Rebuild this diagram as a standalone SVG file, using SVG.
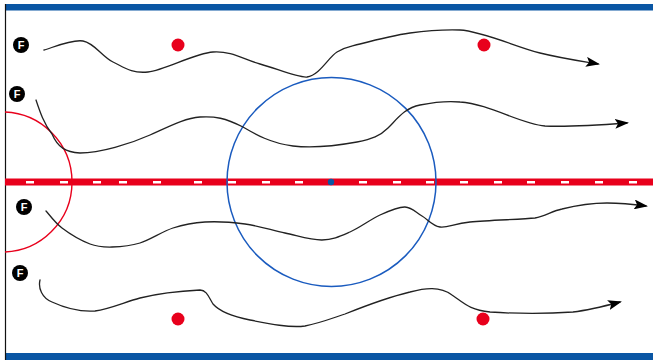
<svg xmlns="http://www.w3.org/2000/svg" width="653" height="360" viewBox="0 0 653 360">
<style>
.bar{fill:#0a56a4}
.dash{fill:#ffffff}
.path{fill:none;stroke:#222;stroke-width:1.3;stroke-linecap:round}
.fc{fill:#000}
.ft{fill:#fff;font-family:"Liberation Sans",Arial,sans-serif;font-weight:bold;font-size:11px;text-anchor:middle}
.dot{fill:#e8001c}
</style>
<defs>
<marker id="arr" viewBox="0 0 14 10" refX="12" refY="5" markerWidth="14" markerHeight="10" markerUnits="userSpaceOnUse" orient="auto">
<path d="M0,0 L14,5 L0,10 L3,5 Z" fill="#000"/>
</marker>
<clipPath id="rink"><rect x="5" y="10" width="648" height="343"/></clipPath>
</defs>
<rect width="653" height="360" fill="#fff"/>
<g id="rink-lines">
<rect class="bar" x="5" y="4" width="648" height="6.5"/>
<rect class="bar" x="5" y="353" width="648" height="7"/>
<line x1="5.5" y1="4" x2="5.5" y2="360" stroke="#111" stroke-width="1.2"/>
<rect x="5" y="178.5" width="648" height="7" fill="#e8001c"/>
<g class="dashes">
<rect class="dash" x="26" y="181" width="8" height="2.5"/>
<rect class="dash" x="60" y="181" width="8" height="2.5"/>
<rect class="dash" x="93" y="181" width="8" height="2.5"/>
<rect class="dash" x="119" y="181" width="8" height="2.5"/>
<rect class="dash" x="153" y="181" width="8" height="2.5"/>
<rect class="dash" x="194" y="181" width="8" height="2.5"/>
<rect class="dash" x="228" y="181" width="8" height="2.5"/>
<rect class="dash" x="262" y="181" width="8" height="2.5"/>
<rect class="dash" x="295" y="181" width="8" height="2.5"/>
<rect class="dash" x="359" y="181" width="8" height="2.5"/>
<rect class="dash" x="393" y="181" width="8" height="2.5"/>
<rect class="dash" x="426" y="181" width="8" height="2.5"/>
<rect class="dash" x="460" y="181" width="8" height="2.5"/>
<rect class="dash" x="494" y="181" width="8" height="2.5"/>
<rect class="dash" x="527" y="181" width="8" height="2.5"/>
<rect class="dash" x="561" y="181" width="8" height="2.5"/>
<rect class="dash" x="595" y="181" width="8" height="2.5"/>
<rect class="dash" x="629" y="181" width="8" height="2.5"/>
</g>
<circle cx="2" cy="182" r="70" fill="none" stroke="#e8001c" stroke-width="1.4" clip-path="url(#rink)"/>
<circle cx="331.5" cy="182" r="104.5" fill="none" stroke="#1a5bbf" stroke-width="1.5"/>
<circle cx="331" cy="182" r="3.2" fill="#0a56a4"/>
</g>
<g id="dots">
<circle class="dot" cx="178" cy="45" r="6.5"/>
<circle class="dot" cx="484" cy="45" r="6.5"/>
<circle class="dot" cx="178" cy="319" r="6.5"/>
<circle class="dot" cx="483" cy="319" r="6.5"/>
</g>
<g id="connectors">
<path class="path" marker-end="url(#arr)" d="M44,50 C50.5,48.5 71.5,39 83,41 C94.5,43 102.2,56.8 113,62 C123.8,67.2 131.3,73.7 148,72 C164.7,70.3 194.3,53.3 213,52 C231.7,50.7 244.3,59.8 260,64 C275.7,68.2 298,78 307,77 C319.8,75 328.2,57.5 337,52 C345.8,46.5 347.8,47.2 360,44 C372.2,40.8 393.3,35.3 410,33 C426.7,30.7 445,29.5 460,30 C481.7,31 517,47.3 540,53 C563,58.7 588.3,62.2 598,64"/>
<path class="path" marker-end="url(#arr)" d="M36,100 C40,112 44,124 52,134 C58,148 66,152 80,153 C100,153 130,144 150,135 C170,126 185,118 200,117 C215,116 225,118 243,127 C255,134 270,143 293,146 C310,148 335,146 357,142 C372,139 380,136 388,128 C398,118 405,108 420,105 C435,102 450,101 460,102 C490,104 520,124 545,126 C570,127 600,125 627,123"/>
<path class="path" marker-end="url(#arr)" d="M46,211 C48.7,213.8 54.7,222.5 62,228 C69.3,233.5 81.7,240.8 90,244 C98.3,247.2 103.7,247.2 112,247 C120.3,246.8 129.8,246.2 140,243 C150.2,239.8 162.2,231.5 173,228 C183.8,224.5 193,222.7 205,222 C217,221.3 231.7,222.2 245,224 C258.3,225.8 272.2,230.3 285,233 C297.8,235.7 311.2,240.2 322,240 C332.8,239.8 340.3,236.2 350,232 C359.7,227.8 370.8,219.2 380,215 C389.2,210.8 398,206.8 405,207 C412,207.2 416.2,212.7 422,216 C427.8,219.3 432,226 440,227 C448,228 453.3,223.7 470,222 C490,220 522,219.5 535,218 C545,216.5 552,211 562,209 C572,206.5 592,203 607,203 C620,203 635,204.5 646,206"/>
<path class="path" marker-end="url(#arr)" d="M40,280 C38,288 42,298 52,302 C65,308 80,312 95,311 C110,309 125,302 140,298 C160,293 180,291 200,290 C207,290 209,298 213,304 C220,312 235,317 250,320 C270,324 290,328 305,326 C320,323 330,319 345,314 C365,306 385,298 410,292 C425,288 440,286 452,295 C465,304 470,310 490,312 C520,314 545,314 573,312 C590,310 605,306 620,302"/>
</g>
<g id="F1"><circle class="fc" cx="21" cy="45" r="8"/><text class="ft" x="21" y="49">F</text></g>
<g id="F2"><circle class="fc" cx="17" cy="94" r="8"/><text class="ft" x="17" y="98">F</text></g>
<g id="F3"><circle class="fc" cx="24" cy="207" r="8"/><text class="ft" x="24" y="211">F</text></g>
<g id="F4"><circle class="fc" cx="20" cy="273" r="8"/><text class="ft" x="20" y="277">F</text></g>
</svg>
